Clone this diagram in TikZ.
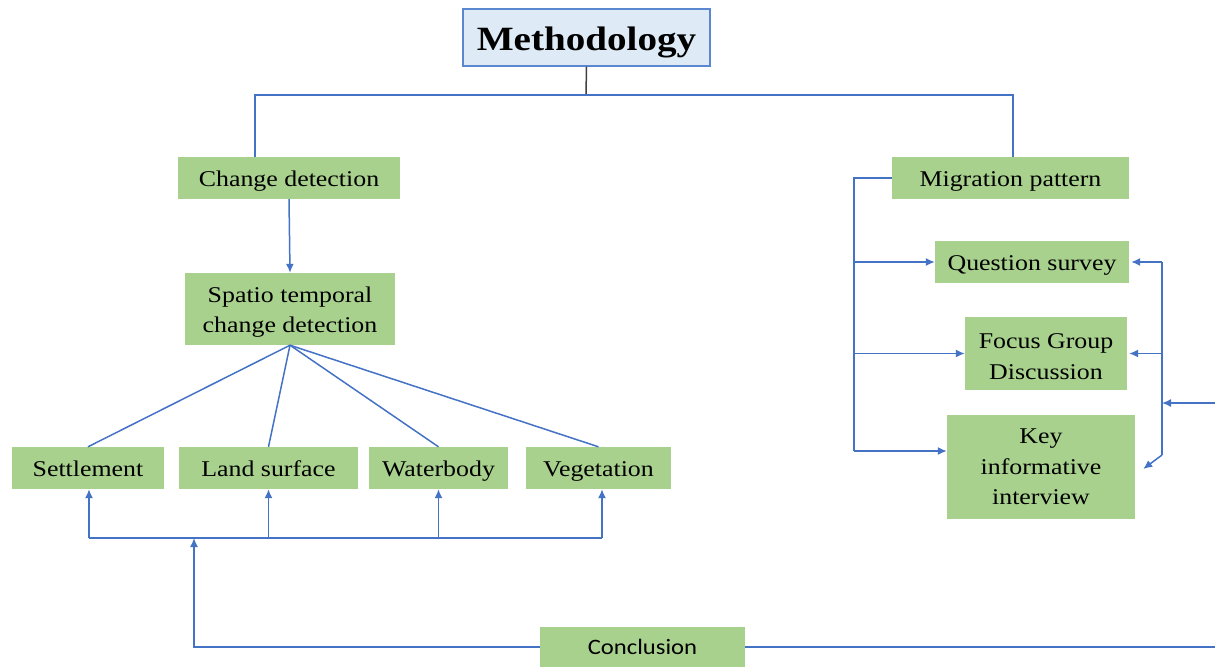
\documentclass[tikz,border=0pt]{standalone}
\usepackage{fontspec}
\setmainfont{Liberation Serif}[FakeStretch=1.15]
\newfontfamily\titlefont{Liberation Serif}[FakeStretch=1.15]
\newfontfamily\concfont{Carlito}[FakeStretch=1.12]
\usetikzlibrary{arrows.meta}
\definecolor{boxgreen}{HTML}{A9D18E}
\definecolor{lineblue}{HTML}{4472C4}
\definecolor{titlefill}{HTML}{DEEBF7}
\definecolor{titleline}{HTML}{5B86D0}
\definecolor{darkline}{HTML}{404040}
\begin{document}
\begin{tikzpicture}[x=1pt,y=-1pt,
  gbox/.style={fill=boxgreen, draw=none, inner sep=0pt, align=center,
    font=\fontsize{22.5}{30.5}\selectfont},
  one/.style={text height=21pt, text depth=5pt},
  conn/.style={draw=lineblue, line width=1.5pt},
  arr/.style={conn, -{Latex[length=9pt,width=8pt]}},
  darkconn/.style={draw=darkline, line width=1.5pt}]
\useasboundingbox[fill=white] (0,0) rectangle (1215,667);

% nodes
\node[draw=titleline, fill=titlefill, line width=1.3pt, minimum width=247pt, minimum height=57pt,
  inner sep=0pt, text height=30pt, text depth=5pt,
  font=\titlefont\bfseries\fontsize{34}{40}\selectfont] (title) at (586.5,37.5) {Methodology};
\node[gbox, one, minimum width=222pt, minimum height=42pt] (cd) at (289,178) {Change detection};
\node[gbox, minimum width=210pt, minimum height=72pt, text height=52pt] (st) at (290,309) {Spatio temporal\\change detection};
\node[gbox, one, minimum width=152pt, minimum height=42pt] (set) at (88,468) {Settlement};
\node[gbox, one, minimum width=179pt, minimum height=42pt] (land) at (268.5,468) {Land surface};
\node[gbox, one, minimum width=139pt, minimum height=42pt] (water) at (438.5,468) {Waterbody};
\node[gbox, one, minimum width=145pt, minimum height=42pt] (veg) at (598.5,468) {Vegetation};
\node[gbox, one, minimum width=237pt, minimum height=42pt] (mig) at (1010.5,178) {Migration pattern};
\node[gbox, one, minimum width=194pt, minimum height=42pt] (qs) at (1032,262) {Question survey};
\node[gbox, minimum width=162pt, minimum height=73pt, text height=52pt] (fg) at (1046,353.5) {Focus Group\\Discussion};
\node[gbox, minimum width=188pt, minimum height=104pt] (key) at (1041,467) {Key\\informative\\interview};
\node[fill=boxgreen, inner sep=0pt, minimum width=205pt, minimum height=40pt,
  font=\concfont\fontsize{22}{26}\selectfont] (concl) at (642.5,647) {Conclusion};

% coordinates
\coordinate (hub) at (586,95);
\coordinate (hl) at (255,95);
\coordinate (hr) at (1013,95);
\coordinate (busL) at (89,538);
\coordinate (busR) at (602,538);
\coordinate (busC) at (194,538);
\coordinate (rin) at (1215,403);
\coordinate (rv) at (1162,403);
\coordinate (rvb) at (1162,455);
\coordinate (lv) at (854,175);
\coordinate (lvb) at (854,451);
\coordinate (cend) at (1215,647);

% top tree
\draw[darkconn] (title.south) -- (hub);
\draw[conn] (cd.north -| hl) -- (hl) -- (hr) -- (mig.north -| hr);
\draw[arr] (cd.south) -- (st.north);

% spatio to classes
\draw[conn] (st.south) -- (set.north);
\draw[conn] (st.south) -- (land.north);
\draw[conn] (st.south) -- (water.north);
\draw[conn] (st.south) -- (veg.north);

% bottom bus
\draw[conn] (busL) -- (busR);
\draw[arr] (busL) -- (set.south -| busL);
\draw[arr] (land.south |- busL) -- (land.south);
\draw[arr] (water.south |- busL) -- (water.south);
\draw[arr] (busR) -- (veg.south -| busR);

% conclusion
\draw[arr] (concl.west) -- (concl.west -| busC) -- (busC);
\draw[conn] (concl.east) -- (cend);

% migration branch
\draw[conn] (mig.west) -- (mig.west -| lv) -- (lvb);
\draw[arr] (qs.west -| lv) -- (qs.west);
\draw[arr] (fg.west -| lv) -- (fg.west);
\draw[arr] (lvb) -- (key.west |- lvb);

% right feedback
\draw[arr] (rin) -- (rv);
\draw[conn] (qs.east -| rv) -- (rvb);
\draw[arr] (qs.east -| rv) -- ([xshift=2pt]qs.east);
\draw[arr] (fg.east -| rv) -- ([xshift=2pt]fg.east);
\draw[arr] (rvb) -- ([xshift=8pt,yshift=-2pt]key.east);
\end{tikzpicture}
\end{document}
